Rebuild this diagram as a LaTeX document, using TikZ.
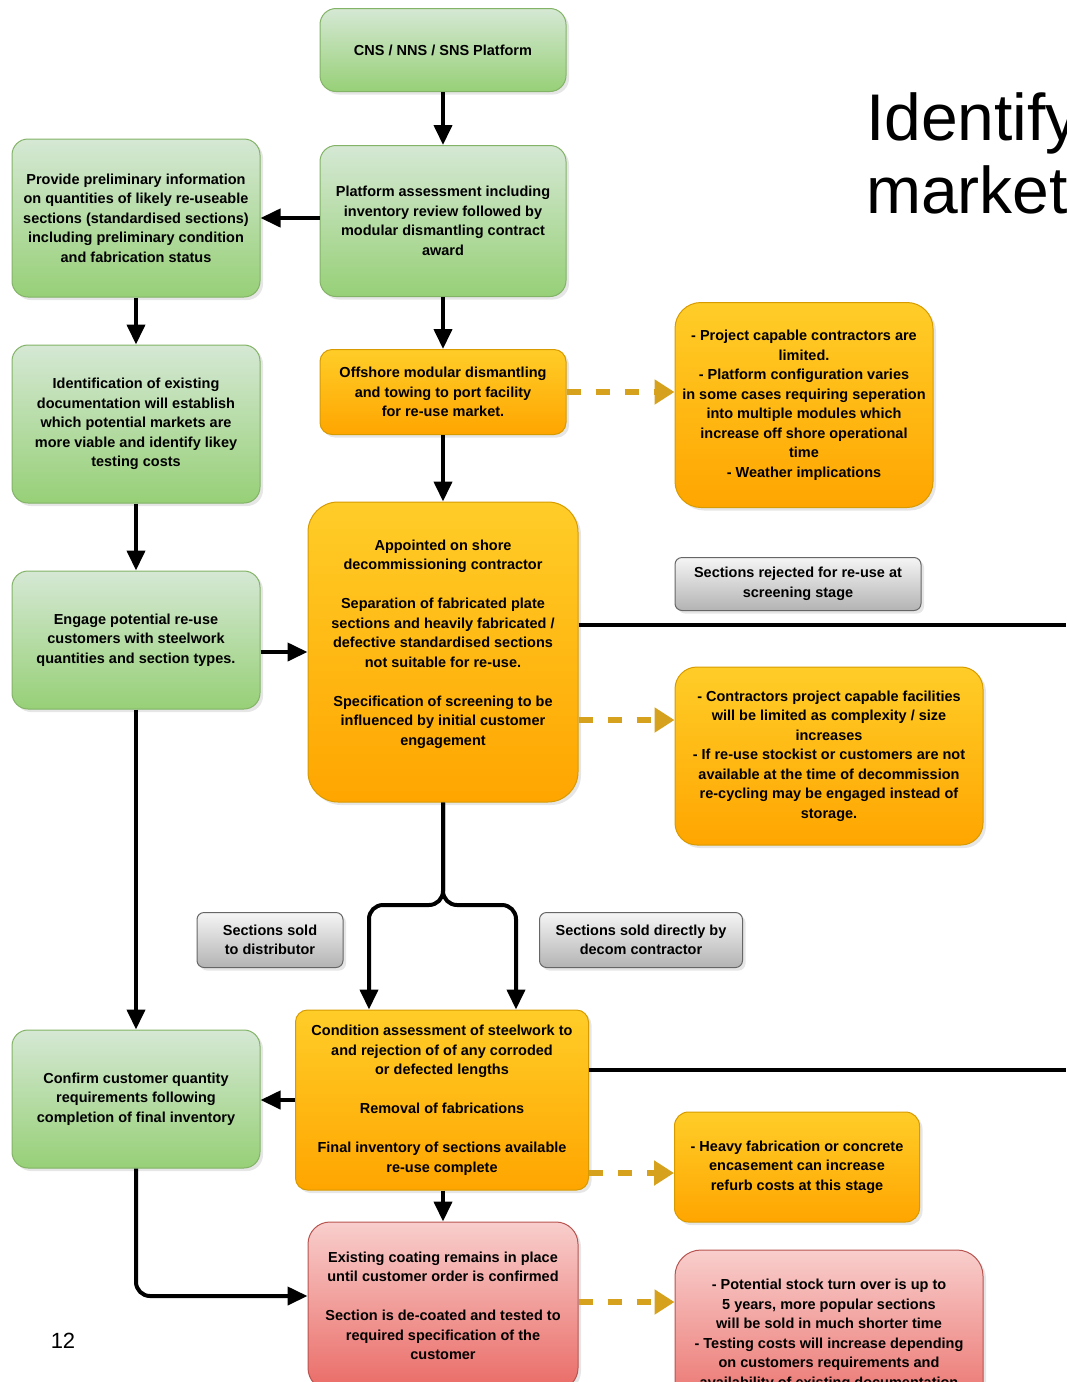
\documentclass[tikz,border=0pt]{standalone}
\usepackage{fontspec}
\setmainfont{Liberation Sans}
\usetikzlibrary{arrows.meta,shadows}

\definecolor{grnTop}{HTML}{D5E8D4}
\definecolor{grnBot}{HTML}{97D077}
\definecolor{grnLine}{HTML}{82B366}
\definecolor{orgTop}{HTML}{FFCD28}
\definecolor{orgBot}{HTML}{FFA500}
\definecolor{orgLine}{HTML}{D79B00}
\definecolor{gryTop}{HTML}{F5F5F5}
\definecolor{gryBot}{HTML}{B3B3B3}
\definecolor{gryLine}{HTML}{666666}
\definecolor{redTop}{HTML}{F8CECC}
\definecolor{redBot}{HTML}{EA6B66}
\definecolor{redLine}{HTML}{B85450}
\definecolor{dashGold}{HTML}{D6A21E}

\tikzset{
	box/.style={rounded corners=16pt, draw, line width=1pt, align=center, inner sep=4pt,
		font=\fontsize{14.5}{19.5}\selectfont\bfseries,
		drop shadow={opacity=0.2, shadow xshift=3pt, shadow yshift=-3pt}},
	greenbox/.style={box, draw=grnLine, top color=grnTop, bottom color=grnBot},
	orangebox/.style={box, draw=orgLine, top color=orgTop, bottom color=orgBot},
	greybox/.style={box, rounded corners=7pt, draw=gryLine, top color=gryTop, bottom color=gryBot},
	redbox/.style={box, draw=redLine, top color=redTop, bottom color=redBot},
	flow/.style={line width=4pt, -{Triangle[length=20pt,width=18pt]}},
	flowline/.style={line width=4pt},
	note/.style={draw=dashGold, line width=6pt, dash pattern=on 14pt off 15pt,
		-{Triangle[length=20pt,width=24pt]}},
}

\begin{document}
\begin{tikzpicture}[x=1pt, y=-1pt]
	%%%%% START %%%%%
	\def\midx{443}
	\def\leftx{136}
	\def\cutx{1066}

	\useasboundingbox (0,0) rectangle (1066,1382);
	\clip (0,0) rectangle (1066,1382);

	% heading and page number
	\node[anchor=base west, inner sep=0pt, font=\fontsize{66}{73}\selectfont] (headA) at (866,140) {Identify};
	\node[anchor=base west, inner sep=0pt, font=\fontsize{66}{73}\selectfont] (headB) at (866,213) {market};
	\node[inner sep=0pt, font=\fontsize{22}{26}\selectfont] (pagenum) at (63,1341) {12};

	% main column
	\node[greenbox, minimum width=246pt, minimum height=83pt] (cns) at (\midx,50) {CNS / NNS / SNS Platform};
	\node[greenbox, minimum width=246pt, minimum height=151pt] (assess) at (\midx,221)
		{Platform assessment including\\inventory review followed by\\modular dismantling contract\\award};
	\node[orangebox, rounded corners=12pt, minimum width=246pt, minimum height=85pt] (offshore) at (\midx,392)
		{Offshore modular dismantling\\and towing to port facility\\for re-use market.};
	\node[orangebox, rounded corners=30pt, minimum width=270pt, minimum height=300pt] (onshore) at (\midx,652)
		{Appointed on shore\\decommissioning contractor\\[19.5pt]
		 Separation of fabricated plate\\sections and heavily fabricated /\\defective standardised sections\\not suitable for re-use.\\[19.5pt]
		 Specification of screening to be\\influenced by initial customer\\engagement\\~};
	\node[orangebox, rounded corners=12pt, minimum width=293pt, minimum height=180pt] (condition) at (442,1100)
		{Condition assessment of steelwork to\\and rejection of of any corroded\\or defected lengths\\[19.5pt]
		 Removal of fabrications\\[19.5pt]
		 Final inventory of sections available\\re-use complete};
	\node[redbox, rounded corners=22pt, minimum width=270pt, minimum height=168pt] (coating) at (\midx,1306)
		{Existing coating remains in place\\until customer order is confirmed\\[19.5pt]
		 Section is de-coated and tested to\\required specification of the\\customer};

	% left column
	\node[greenbox, minimum width=248pt, minimum height=158pt] (prelim) at (\leftx,218)
		{Provide preliminary information\\on quantities of likely re-useable\\sections (standardised sections)\\including preliminary condition\\and fabrication status};
	\node[greenbox, minimum width=248pt, minimum height=158pt] (ident) at (\leftx,424)
		{Identification of existing\\documentation will establish\\which potential markets are\\more viable and identify likey\\testing costs};
	\node[greenbox, minimum width=248pt, minimum height=138pt] (engage) at (\leftx,640)
		{Engage potential re-use\\customers with steelwork\\quantities and section types.};
	\node[greenbox, minimum width=248pt, minimum height=138pt] (confirm) at (\leftx,1099)
		{Confirm customer quantity\\requirements following\\completion of final inventory};

	% right column
	\node[orangebox, rounded corners=26pt, minimum width=258pt, minimum height=205pt] (riskA) at (804,405)
		{- Project capable contractors are\\limited.\\- Platform configuration varies\\in some cases requiring seperation\\into multiple modules which\\increase off shore operational\\time\\- Weather implications};
	\node[greybox, minimum width=246pt, minimum height=53pt] (rejected) at (798,584)
		{Sections rejected for re-use at\\screening stage};
	\node[orangebox, rounded corners=22pt, minimum width=308pt, minimum height=178pt] (riskB) at (829,756)
		{- Contractors project capable facilities\\will be limited as complexity / size\\increases\\- If re-use stockist or customers are not\\available at the time of decommission\\re-cycling may be engaged instead of\\storage.};
	\node[orangebox, rounded corners=14pt, minimum width=245pt, minimum height=110pt] (heavy) at (797,1167)
		{- Heavy fabrication or concrete\\encasement can increase\\refurb costs at this stage};
	\node[redbox, rounded corners=26pt, minimum width=308pt, minimum height=170pt] (stock) at (829,1335)
		{- Potential stock turn over is up to\\5 years, more popular sections\\will be sold in much shorter time\\- Testing costs will increase depending\\on customers requirements and\\availability of existing documentation};

	% branch labels
	\node[greybox, minimum width=146pt, minimum height=55pt] (distrib) at (270,940) {Sections sold\\to distributor};
	\node[greybox, minimum width=203pt, minimum height=55pt] (direct) at (641,940) {Sections sold directly by\\decom contractor};

	% free ends at the page edge
	\coordinate (cutA) at (\cutx,625);
	\coordinate (cutB) at (\cutx,1070);
	\coordinate (split) at (\midx,905);
	\coordinate (stockin) at ([yshift=4pt]coating.east);

	% solid arrows
	\draw[flow] (cns) -- (assess);
	\draw[flow] (assess) -- (offshore);
	\draw[flow] (offshore) -- (onshore);
	\draw[flow] (assess.west |- prelim.east) -- (prelim.east);
	\draw[flow] (prelim) -- (ident);
	\draw[flow] (ident) -- (engage);
	\draw[flow] (engage.east |- onshore.west) -- (onshore.west);
	\draw[flow] (engage) -- (confirm);
	\draw[flow, rounded corners=14pt] (onshore.south) -- (split) -| ([xshift=-73pt]condition.north);
	\draw[flow, rounded corners=14pt] (onshore.south) -- (split) -| ([xshift=74pt]condition.north);
	\draw[flow] (condition.west) -- (condition.west -| confirm.east);
	\draw[flow] (condition.south -| coating.north) -- (coating.north);
	\draw[flow, rounded corners=14pt] (confirm.south) |- ([yshift=10pt]coating.west);
	\draw[flowline] (onshore.east |- cutA) -- (cutA);
	\draw[flowline] (condition.east |- cutB) -- (cutB);

	% dashed notes
	\draw[note] (offshore.east) -- (riskA.west |- offshore.east);
	\draw[note] ([yshift=-68pt]onshore.east) -- ([yshift=36pt]riskB.west);
	\draw[note] ([yshift=-73pt]condition.east) -- ([yshift=-6pt]heavy.west);
	\draw[note] (stockin) -- (stock.west |- stockin);
	%%%%% END %%%%%
\end{tikzpicture}
\end{document}
